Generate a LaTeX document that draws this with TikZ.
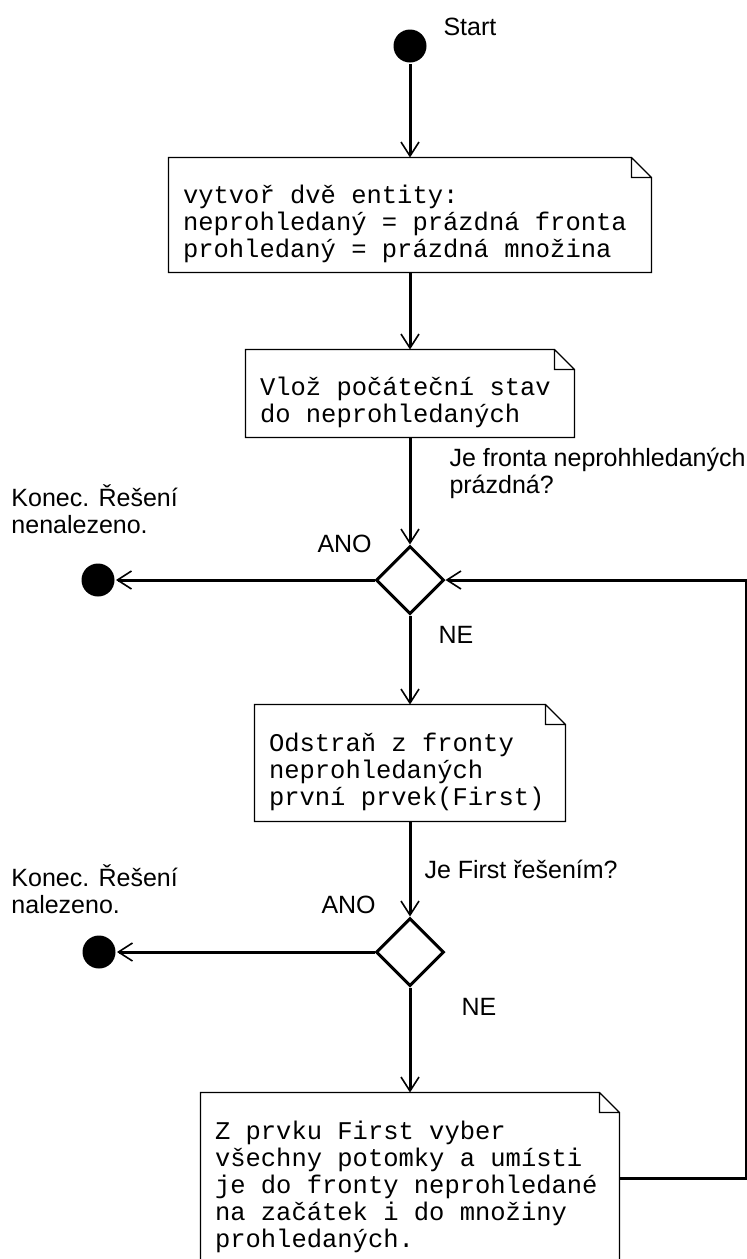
\documentclass[tikz,border=0pt]{standalone}
\usepackage{fontspec}
\setmainfont{Liberation Sans}
\newfontfamily\notefont{Liberation Mono}
\usetikzlibrary{positioning}
\usetikzlibrary{shapes.geometric}
\usetikzlibrary{arrows.meta}

\begin{document}
\begin{tikzpicture}[x=1pt, y=-1pt, line width=3pt,
  lbl/.style={font=\fontsize{25}{26.5}\selectfont, align=left, inner sep=0pt},
  note/.style={font=\notefont\fontsize{25.5}{27}\selectfont, align=left, inner xsep=13pt, inner ysep=0pt, execute at begin node={\spaceskip=15.3pt\relax\rule{0pt}{36pt}}},
  dot/.style={circle, fill=black, inner sep=0pt, minimum size=33pt},
  choice/.style={diamond, draw, inner sep=0pt, minimum size=68pt},
  flow/.style={-{Straight Barb[length=14pt,width=18pt,line width=1.6pt]}}]
\useasboundingbox (0,0) rectangle (747,1259);
%start
\node[dot] (start) at (410,46) {};
\node[lbl, anchor=base west] (startlbl) at (442,35) {Start};
%activities
\node[note, text width=454pt, minimum height=112pt] (b1) at (410,215) {vytvoř dvě entity:\\neprohledaný = prázdná fronta\\prohledaný = prázdná množina};
\node[note, text width=300pt, minimum height=85pt] (b2) at (410,393.5) {Vlož počáteční stav\\do neprohledaných};
\node[note, text width=282pt, minimum height=114pt] (b3) at (410,763) {Odstraň z fronty\\neprohledaných\\první prvek(First)};
\node[note, text width=390pt, minimum height=168pt] (b4) at (410,1178) {Z prvku First vyber\\všechny potomky a umísti\\je do fronty neprohledané\\na začátek i do množiny\\prohledaných.};
\foreach \n in {b1,b2,b3,b4}
  \draw (\n.south west) -- (\n.north west) -- ([xshift=-20pt]\n.north east) -- ([yshift=-20pt]\n.north east) -- (\n.south east) -- cycle
        [line width=1.4pt] ([xshift=-20pt]\n.north east) |- ([yshift=-20pt]\n.north east);
%decisions
\node[choice] (d1) at (410,580) {};
\node[choice] (d2) at (410,952) {};
\node[lbl, anchor=base west] (q1) at (448,493) {Je fronta neprohhledaných\\prázdná?};
\node[lbl, anchor=base west] (q2) at (423,878) {Je First řešením?};
\node[lbl, anchor=base west] (yes1) at (316,552) {ANO};
\node[lbl, anchor=base west] (no1) at (437,643) {NE};
\node[lbl, anchor=base west] (yes2) at (320,913) {ANO};
\node[lbl, anchor=base west] (no2) at (460,1015) {NE};
%ends
\node[dot] (end1) at (98,580) {};
\node[dot] (end2) at (99,952) {};
\node[lbl, anchor=base west] (end1lbl) at (10,533) {Konec. Řešení\\nenalezeno.};
\node[lbl, anchor=base west] (end2lbl) at (10,913) {Konec. Řešení\\nalezeno.};
%connectors
\draw[flow] (start) -- (b1);
\draw[flow] (b1) -- (b2);
\draw[flow] (b2) -- (d1);
\draw[flow] (d1) -- (end1);
\draw[flow] (d1) -- (b3);
\draw[flow] (b3) -- (d2);
\draw[flow] (d2) -- (end2);
\draw[flow] (d2) -- (b4);
\coordinate (loop) at (746,580);
\draw[flow] (b4.east) -| (loop) -- (d1.east);
\end{tikzpicture}
\end{document}
